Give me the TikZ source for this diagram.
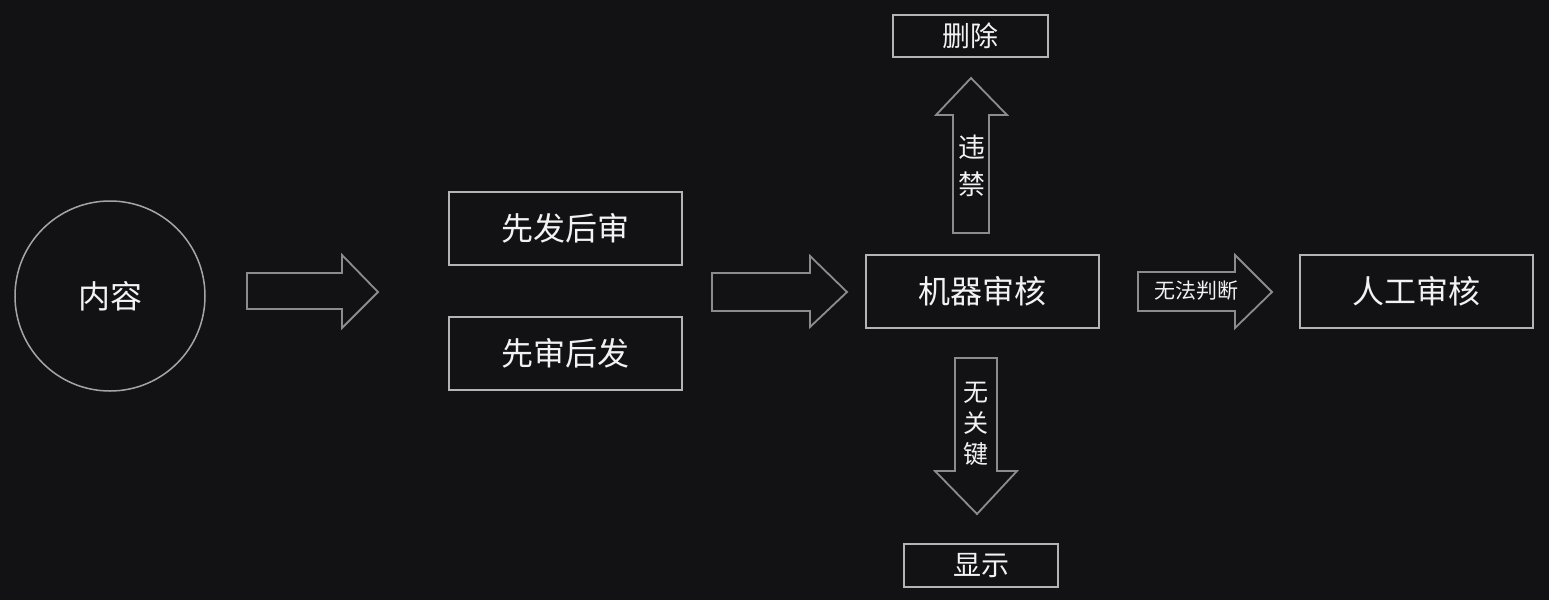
\documentclass[tikz,border=0pt]{standalone}
\usepackage{fontspec}
\newfontfamily\cjk{Noto Sans CJK SC}
\definecolor{bg}{HTML}{121215}
\definecolor{boxline}{HTML}{B4B4B4}
\definecolor{arrline}{HTML}{8C8C8C}
\definecolor{txt}{HTML}{F2F2F2}
\begin{document}
\begin{tikzpicture}[x=1pt,y=-1pt,
  every node/.style={text=txt,font=\cjk},
  stagebox/.style={draw=boxline,line width=1.6pt,inner sep=0pt},
  fatarrow/.style={draw=arrline,line width=1.8pt,line join=miter},
  bigtext/.style={font=\cjk\fontsize{32}{36}\selectfont},
  midtext/.style={font=\cjk\fontsize{28}{32}\selectfont},
  vtext/.style={align=center,inner sep=0pt}]
\fill[bg] (0,0) rectangle (1549,600);
\useasboundingbox (0,0) rectangle (1549,600);

% source
\node[draw=boxline!120,line width=1.5pt,circle,minimum size=190pt,bigtext] (src) at (110,296) {内容};

% publishing modes
\node[stagebox,minimum width=233pt,minimum height=73pt,bigtext] (postfirst) at (565.5,228.5) {先发后审};
\node[stagebox,minimum width=233pt,minimum height=73pt,bigtext] (reviewfirst) at (565.5,353.5) {先审后发};

% review stages
\node[stagebox,minimum width=233pt,minimum height=73pt,bigtext] (machine) at (982.5,291.5) {机器审核};
\node[stagebox,minimum width=233pt,minimum height=73pt,bigtext] (manual) at (1416.5,291.5) {人工审核};
\node[stagebox,minimum width=155pt,minimum height=42pt,midtext] (delete) at (970.5,36) {删除};
\node[stagebox,minimum width=154pt,minimum height=43pt,midtext] (show) at (981,565.5) {显示};

% block arrows
\draw[fatarrow] (247,273) -- (342,273) -- (342,255) -- (378,292) -- (342,328) -- (342,309) -- (247,309) -- cycle;
\draw[fatarrow] (712,273) -- (810,273) -- (810,256) -- (847,292) -- (810,327) -- (810,311) -- (712,311) -- cycle;
\draw[fatarrow] (1138,272) -- (1235,272) -- (1235,255) -- (1272,292) -- (1235,328) -- (1235,311) -- (1138,311) -- cycle;
\draw[fatarrow] (953,233) -- (953,115) -- (936,115) -- (971,78) -- (1007,115) -- (989,115) -- (989,233) -- cycle;
\draw[fatarrow] (955,358) -- (955,471) -- (935,471) -- (977,514) -- (1017,471) -- (997,471) -- (997,358) -- cycle;

% arrow labels
\node[vtext,font=\cjk\fontsize{27}{37}\selectfont] (banned) at (972,166) {违\\禁};
\node[vtext,font=\cjk\fontsize{25}{31}\selectfont] (nokey) at (976,424) {无\\关\\键};
\node[font=\cjk\fontsize{21}{24}\selectfont,inner sep=0pt] (undecided) at (1196,291) {无法判断};
\end{tikzpicture}
\end{document}
